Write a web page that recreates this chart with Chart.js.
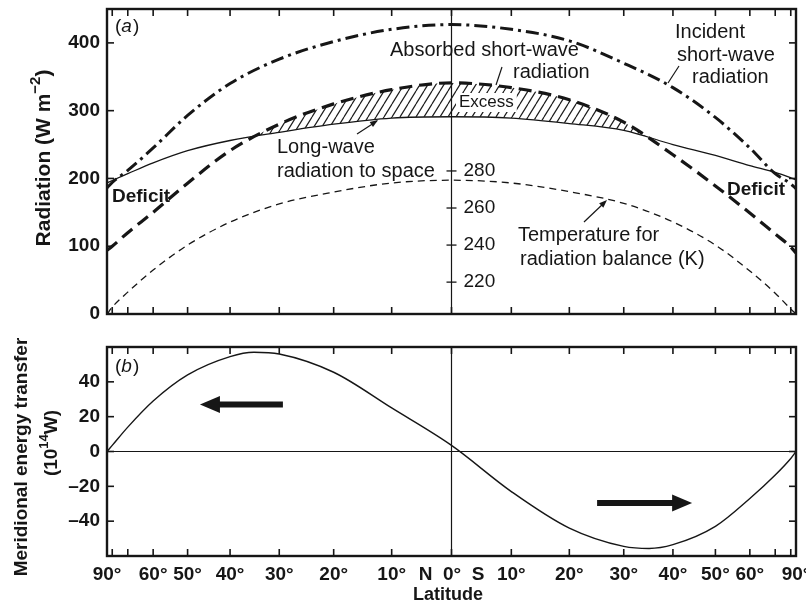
<!DOCTYPE html>
<html lang="en">
<head>
<meta charset="UTF-8">
<title>Radiation balance and meridional energy transfer</title>
<script src="https://cdn.jsdelivr.net/npm/chart.js"></script>
<style>
  body { margin: 0; background: #fff; }
  .wrap { position: relative; width: 806px; height: 610px; }
  canvas { position: absolute; left: 0; }
  #top { top: 0; }
  #bottom { top: 330px; }
</style>
</head>
<body>
<div class="wrap">
  <canvas id="top" width="806" height="330"></canvas>
  <canvas id="bottom" width="806" height="280"></canvas>
</div>
<script>
// latitudes, north positive; the x axis is sine-spaced (equal area)
const latitude = [90, 80, 70, 60, 50, 40, 30, 20, 10, 0, -10, -20, -30, -40, -50, -60, -70, -80, -90];
// panel (a), W m-2
const incident = [186, 194, 212, 245, 293, 340, 376, 402, 420, 427, 420, 403, 370, 334, 290, 245, 207, 192, 185];
const absorbed = [94, 100, 120, 150, 193, 241, 280, 310, 331, 341, 334, 316, 283, 235, 189, 149, 118, 99, 90];
const longwave = [193.5, 197, 207, 223, 241, 256, 268, 280, 289, 291, 289, 281, 271, 250, 234, 219, 209, 201, 198];
// temperature for radiation balance, K
const temperature = [202.7, 206.5, 214.6, 226.5, 240, 252.4, 262.2, 268.6, 273.5, 275, 273.5, 268.8, 262.5, 252.5, 240, 226, 214, 205.5, 202.8];
// panel (b), 10^14 W
const energyLat = [90, 80, 70, 60, 50, 40, 35, 30, 20, 10, 0, -10, -20, -30, -35, -40, -50, -60, -70, -80, -90];
const energy = [0, 3.5, 14, 29, 44, 54.5, 57, 56, 45.5, 25, 3.5, -23, -44, -54.5, -55.7, -53.5, -43, -27, -13.5, -4, 0];

const latTicks = [90, 80, 70, 60, 50, 40, 30, 20, 10, 0, -10, -20, -30, -40, -50, -60, -70, -80, -90];
const latLabels = ['90°', '', '', '60°', '50°', '40°', '30°', '20°', '10°', 'N  0°  S', '10°', '20°', '30°', '40°', '50°', '60°', '', '', '90°'];
const radTicks = [0, 100, 200, 300, 400];
const tempTicks = [220, 240, 260, 280];
const energyTicks = [-40, -20, 0, 20, 40];

const ink = '#161616';
const FAM = '"Liberation Sans", Arial, sans-serif';
const tickFont = { family: FAM, size: 19, weight: 'bold' };

const pos = lat => -Math.sin(lat * Math.PI / 180);
const pts = (lats, vals) => lats.map((l, i) => ({ x: pos(l), y: vals[i] }));

function line(ctx, x1, y1, x2, y2) {
  ctx.beginPath(); ctx.moveTo(x1, y1); ctx.lineTo(x2, y2); ctx.stroke();
}
function head(ctx, x1, y1, x2, y2, len, w) {
  const a = Math.atan2(y2 - y1, x2 - x1), c = Math.cos(a), s = Math.sin(a);
  ctx.beginPath();
  ctx.moveTo(x2, y2);
  ctx.lineTo(x2 - len * c + w / 2 * s, y2 - len * s - w / 2 * c);
  ctx.lineTo(x2 - len * c - w / 2 * s, y2 - len * s + w / 2 * c);
  ctx.closePath(); ctx.fill();
}
// text made of parts [text, size, raise, weight]
function rich(ctx, parts, x, y, angle) {
  ctx.save();
  ctx.translate(x, y); ctx.rotate(angle);
  ctx.textAlign = 'left'; ctx.textBaseline = 'middle';
  let total = 0;
  parts.forEach(p => { ctx.font = `${p[3] || ''} ${p[1]}px ${FAM}`; total += ctx.measureText(p[0]).width; });
  let cx = -total / 2;
  parts.forEach(p => {
    ctx.font = `${p[3] || ''} ${p[1]}px ${FAM}`;
    ctx.fillText(p[0], cx, -(p[2] || 0));
    cx += ctx.measureText(p[0]).width;
  });
  ctx.restore();
}
function panelLetter(ctx, letter, x, y) {
  ctx.font = `19px ${FAM}`;
  ctx.fillText('(', x, y);
  let cx = x + ctx.measureText('(').width;
  ctx.font = `italic 19px ${FAM}`;
  ctx.fillText(letter, cx, y);
  cx += ctx.measureText(letter).width + 1;
  ctx.font = `19px ${FAM}`;
  ctx.fillText(')', cx, y);
}
function makeHatch() {
  const c = document.createElement('canvas');
  c.width = 8; c.height = 13;
  const g = c.getContext('2d');
  g.strokeStyle = '#1e1e1e'; g.lineWidth = 1.2;
  g.beginPath();
  [-8, 0, 8].forEach(dx => { g.moveTo(dx, 13); g.lineTo(dx + 8, 0); });
  g.stroke();
  return g.createPattern(c, 'repeat');
}

const framePlugin = {
  id: 'frame',
  afterDatasetsDraw(chart, args, opts) {
    const { ctx, chartArea: a, scales } = chart;
    const x = scales.x, y = scales.y;
    ctx.save();
    ctx.strokeStyle = ink;
    ctx.lineWidth = 1.2;
    const xc = x.getPixelForValue(pos(0));
    line(ctx, xc, a.top, xc, a.bottom);
    if (opts.zeroLine) {
      const y0 = y.getPixelForValue(0);
      line(ctx, a.left, y0, a.right, y0);
    }
    ctx.lineWidth = 1.6;
    latTicks.forEach(l => {
      const px = x.getPixelForValue(pos(l));
      line(ctx, px, a.bottom, px, a.bottom - 7);
      line(ctx, px, a.top, px, a.top + 7);
    });
    opts.yTicks.forEach(v => {
      const py = y.getPixelForValue(v);
      line(ctx, a.left, py, a.left + 7, py);
      line(ctx, a.right, py, a.right - 7, py);
    });
    ctx.lineWidth = 2.4;
    ctx.strokeRect(a.left, a.top, a.width, a.height);
    ctx.restore();
  }
};

const reg20 = `20px ${FAM}`;
const topLabels = [
  ['Absorbed short-wave', 390, 50, reg20],
  ['radiation', 513, 72, reg20],
  ['Long-wave', 277, 147, reg20],
  ['radiation to space', 277, 171, reg20],
  ['Deficit', 112, 197, `bold 19px ${FAM}`],
  ['Deficit', 727, 190, `bold 19px ${FAM}`],
  ['Incident', 675, 32, reg20],
  ['short-wave', 677, 55, reg20],
  ['radiation', 692, 77, reg20],
  ['Temperature for', 518, 235, reg20],
  ['radiation balance (K)', 520, 259, reg20]
];

const topNotes = {
  id: 'topNotes',
  afterDatasetsDraw(chart) {
    const { ctx, scales: { x, yT } } = chart;
    ctx.save();
    ctx.fillStyle = ink; ctx.strokeStyle = ink;
    ctx.textBaseline = 'middle'; ctx.textAlign = 'left';
    // temperature scale along the equator line
    const xc = x.getPixelForValue(pos(0));
    ctx.font = `19px ${FAM}`;
    ctx.lineWidth = 1.3;
    tempTicks.forEach(t => {
      const py = yT.getPixelForValue(t);
      line(ctx, xc - 5, py, xc + 5, py);
      ctx.fillText(String(t), xc + 12, py);
    });
    panelLetter(ctx, 'a', 115, 27);
    // "Excess" sits on a clear patch inside the hatching
    ctx.font = `17px ${FAM}`;
    const ew = ctx.measureText('Excess').width;
    ctx.fillStyle = '#fff';
    ctx.fillRect(456, 93, ew + 6, 19);
    ctx.fillStyle = ink;
    ctx.fillText('Excess', 459, 102);
    topLabels.forEach(([t, px, py, f]) => { ctx.font = f; ctx.fillText(t, px, py); });
    // leaders
    ctx.lineWidth = 1.2;
    line(ctx, 502, 67, 496, 85);
    line(ctx, 679, 66, 668, 83);
    line(ctx, 357, 134, 377, 121);
    head(ctx, 357, 134, 378, 120, 8, 6);
    line(ctx, 584, 222, 604, 203);
    head(ctx, 584, 222, 607, 200, 8, 6);
    rich(ctx, [['Radiation (W m', 21, 0, 'bold'], ['−2', 15, 8, 'bold'], [')', 21, 0, 'bold']], 44, 158, -Math.PI / 2);
    ctx.restore();
  }
};

const bottomNotes = {
  id: 'bottomNotes',
  afterDatasetsDraw(chart) {
    const { ctx, scales: { x, y } } = chart;
    ctx.save();
    ctx.fillStyle = ink; ctx.strokeStyle = ink;
    ctx.textBaseline = 'middle'; ctx.textAlign = 'left';
    panelLetter(ctx, 'b', 115, 37);
    // direction of transport
    [[29.3, 46.9, 27], [-25, -44.3, -29.6]].forEach(([l1, l2, v]) => {
      const x1 = x.getPixelForValue(pos(l1)), x2 = x.getPixelForValue(pos(l2)), py = y.getPixelForValue(v);
      const dir = Math.sign(x2 - x1);
      ctx.lineWidth = 6;
      line(ctx, x1, py, x2 - dir * 12, py);
      head(ctx, x1, py, x2, py, 20, 17);
    });
    rich(ctx, [['Meridional energy transfer', 19, 0, 'bold']], 22, 127, -Math.PI / 2);
    rich(ctx, [['(10', 19, 0, 'bold'], ['14', 13, 8, 'bold'], ['W)', 19, 0, 'bold']], 52, 113, -Math.PI / 2);
    rich(ctx, [['Latitude', 18, 0, 'bold']], 448, 265, 0);
    ctx.restore();
  }
};

const common = {
  animation: false,
  responsive: false,
  events: [],
  elements: { point: { radius: 0 }, line: { cubicInterpolationMode: 'monotone', borderColor: ink } },
  plugins: { legend: { display: false }, tooltip: { enabled: false } }
};

function yAxis(min, max, ticks, cb) {
  return {
    min: min, max: max,
    afterBuildTicks: s => { s.ticks = ticks.map(v => ({ value: v })); },
    afterFit: s => { s.width = 107; s.paddingTop = 0; s.paddingBottom = 0; },
    grid: { display: false, drawTicks: false },
    border: { display: false },
    ticks: { padding: 7, color: ink, font: tickFont, callback: cb }
  };
}

const hatch = makeHatch();

new Chart(document.getElementById('top'), {
  type: 'line',
  data: {
    datasets: [
      { label: 'Incident short-wave radiation', data: pts(latitude, incident), borderWidth: 3, borderDash: [13, 5, 3, 5], fill: false },
      { label: 'Absorbed short-wave radiation', data: pts(latitude, absorbed), borderWidth: 3.2, borderDash: [13, 7],
        fill: { target: 2, above: hatch, below: 'rgba(0,0,0,0)' } },
      { label: 'Long-wave radiation to space', data: pts(latitude, longwave), borderWidth: 1.3, fill: false },
      { label: 'Temperature for radiation balance (K)', data: pts(latitude, temperature), yAxisID: 'yT', borderWidth: 1.3, borderDash: [7, 5], fill: false }
    ]
  },
  options: {
    ...common,
    layout: { padding: { left: 0, top: 9, right: 10, bottom: 16 } },
    plugins: { ...common.plugins, frame: { yTicks: radTicks } },
    scales: {
      x: { type: 'linear', min: -1, max: 1, display: false },
      y: yAxis(0, 450, radTicks, v => String(v)),
      yT: { type: 'linear', position: 'right', display: false, min: 202.8, max: 367.4 }
    }
  },
  plugins: [framePlugin, topNotes]
});

new Chart(document.getElementById('bottom'), {
  type: 'line',
  data: {
    datasets: [
      { label: 'Meridional energy transfer', data: pts(energyLat, energy), borderWidth: 1.4, fill: false }
    ]
  },
  options: {
    ...common,
    layout: { padding: { left: 0, top: 17, right: 10, bottom: 0 } },
    plugins: { ...common.plugins, frame: { yTicks: energyTicks, zeroLine: true } },
    scales: {
      x: {
        type: 'linear', min: -1, max: 1,
        afterBuildTicks: s => { s.ticks = latTicks.map(l => ({ value: pos(l) })); },
        afterFit: s => { s.height = 54; s.paddingLeft = 0; s.paddingRight = 0; },
        grid: { display: false, drawTicks: false },
        border: { display: false },
        ticks: { autoSkip: false, maxRotation: 0, padding: 7, color: ink, font: tickFont, callback: (v, i) => latLabels[i] }
      },
      y: yAxis(-60, 60, energyTicks, v => v < 0 ? '–' + Math.abs(v) : String(v))
    }
  },
  plugins: [framePlugin, bottomNotes]
});
</script>
</body>
</html>
